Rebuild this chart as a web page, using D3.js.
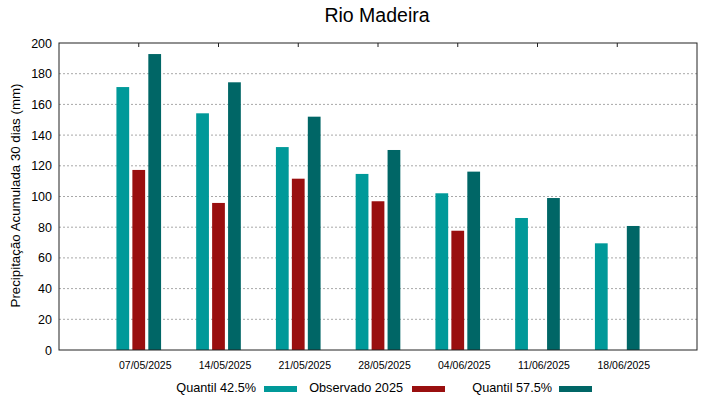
<!DOCTYPE html>
<html>
<head>
<meta charset="utf-8">
<script src="https://cdn.jsdelivr.net/npm/d3@7"></script>
<style>
    body { margin: 0; background: #fff; }
    text { font-family: "Liberation Sans", Arial, sans-serif; fill: #000; }
</style>
</head>
<body>
<div id="chart"></div>
<script>
const width = 719;
const height = 399;

// データ
const datas = ["07/05/2025", "14/05/2025", "21/05/2025", "28/05/2025", "04/06/2025", "11/06/2025", "18/06/2025"];
const quantil425 = [171.3, 154.2, 132.2, 114.7, 102.1, 86.0, 69.5];
const observado = [117.3, 95.8, 111.6, 96.9, 77.7, null, null];
const quantil575 = [192.8, 174.4, 152.0, 130.3, 116.2, 99.0, 80.8];
const yTicks = [0, 20, 40, 60, 80, 100, 120, 140, 160, 180, 200];

const series = [
    { name: "Quantil 42.5%", values: quantil425, color: "#009999", offset: -1 },
    { name: "Observado 2025", values: observado, color: "#990f0f", offset: 0 },
    { name: "Quantil 57.5%", values: quantil575, color: "#006666", offset: 1 }
];

const margin = { top: 43, right: 22, bottom: 49, left: 59 };
const plotW = width - margin.left - margin.right;
const plotH = height - margin.top - margin.bottom;

const svg = d3.select("#chart")
    .append("svg")
    .attr("width", width)
    .attr("height", height);

const g = svg.append("g")
    .attr("transform", `translate(${margin.left},${margin.top})`);

// x: 位置 -1 .. 7
const x = d3.scaleLinear().domain([-1, 7]).range([0, plotW]);
const y = d3.scaleLinear().domain([0, 200]).range([plotH, 0]);

const barW = 0.16;
const step = 0.2;

// グリッド
g.selectAll(".grid")
    .data(yTicks.filter(d => d > 0 && d < 200))
    .enter()
    .append("line")
    .attr("x1", 0)
    .attr("x2", plotW)
    .attr("y1", d => y(d))
    .attr("y2", d => y(d))
    .attr("stroke", "#a8a8a8")
    .attr("stroke-width", 1)
    .attr("stroke-dasharray", "2,2");

// バー
series.forEach(function (s) {
    g.selectAll(null)
        .data(s.values.map((v, i) => ({ v: v, i: i })).filter(d => d.v !== null))
        .enter()
        .append("rect")
        .attr("x", d => x(d.i + s.offset * step - barW / 2))
        .attr("width", x(barW) - x(0))
        .attr("y", d => y(d.v))
        .attr("height", d => y(0) - y(d.v))
        .attr("fill", s.color);
});

// 枠
g.append("rect")
    .attr("width", plotW)
    .attr("height", plotH)
    .attr("fill", "none")
    .attr("stroke", "#222")
    .attr("stroke-width", 1);

// y軸
const yAxis = g.append("g")
    .call(d3.axisLeft(y).tickValues(yTicks).tickSize(0).tickPadding(7));
yAxis.select(".domain").remove();
yAxis.selectAll("text")
    .style("font-size", "12.5px")
    .style("font-family", "Liberation Sans, Arial, sans-serif");

// x軸 (下ラベル、少し右にずれている)
const xAxis = g.append("g")
    .attr("transform", `translate(6,${plotH})`)
    .call(d3.axisBottom(x).tickValues(d3.range(datas.length)).tickFormat(i => datas[i]).tickSize(0).tickPadding(12));
xAxis.select(".domain").remove();
xAxis.selectAll("text")
    .style("font-size", "10.5px")
    .style("font-family", "Liberation Sans, Arial, sans-serif");

// 上の目盛り
g.selectAll(".topTick")
    .data(d3.range(datas.length))
    .enter()
    .append("line")
    .attr("x1", d => x(d))
    .attr("x2", d => x(d))
    .attr("y1", 0)
    .attr("y2", 4)
    .attr("stroke", "#222");

// タイトル
svg.append("text")
    .attr("x", 377)
    .attr("y", 22)
    .attr("text-anchor", "middle")
    .style("font-size", "19.5px")
    .text("Rio Madeira");

// y軸ラベル
svg.append("text")
    .attr("transform", `translate(20,${margin.top + plotH / 2 - 1}) rotate(-90)`)
    .attr("text-anchor", "middle")
    .style("font-size", "13.3px")
    .text("Precipitação Acumulada 30 dias (mm)");

// 凡例
const legendPos = [
    { textEnd: 256, swatch: 264 },
    { textEnd: 403, swatch: 412 },
    { textEnd: 552, swatch: 559 }
];
series.forEach(function (s, i) {
    svg.append("text")
        .attr("x", legendPos[i].textEnd)
        .attr("y", 392)
        .attr("text-anchor", "end")
        .style("font-size", "12.7px")
        .text(s.name);
    svg.append("rect")
        .attr("x", legendPos[i].swatch)
        .attr("y", 386)
        .attr("width", 33)
        .attr("height", 6)
        .attr("fill", s.color);
});
</script>
</body>
</html>
